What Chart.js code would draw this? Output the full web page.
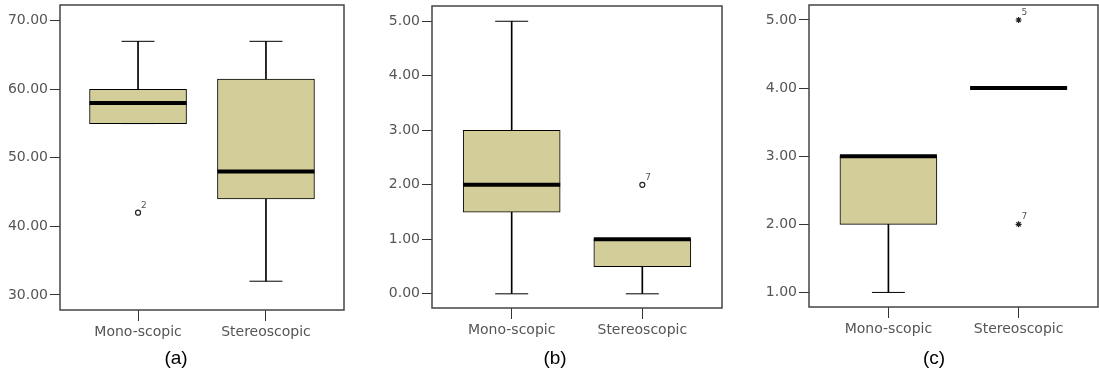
<!DOCTYPE html>
<html>
<head>
<meta charset="utf-8">
<script src="https://cdn.jsdelivr.net/npm/chart.js@4/dist/chart.umd.min.js"></script>
<style>
  body { margin: 0; background: #fff; width: 1099px; height: 376px; position: relative; overflow: hidden; }
  canvas { position: absolute; top: 0; }
  .cap { position: absolute; top: 346px; width: 40px; text-align: center; font: 19px "Liberation Sans", Arial, sans-serif; line-height: 24px; color: #000; }
</style>
</head>
<body>
<canvas id="boxA" width="350" height="376" style="left:0px"></canvas>
<canvas id="boxB" width="358" height="376" style="left:370px"></canvas>
<canvas id="boxC" width="359" height="376" style="left:740px"></canvas>
<div class="cap" style="left:156px">(a)</div>
<div class="cap" style="left:535px">(b)</div>
<div class="cap" style="left:914px">(c)</div>
<script>
var groups = ['Mono-scopic', 'Stereoscopic'];

// (a)
var aMin = [55, 32];
var aQ1  = [55, 44];
var aMed = [58, 48];
var aQ3  = [60, 61.5];
var aMax = [67, 67];
var aOutX = [0];
var aOutY = [42];
var aOutLbl = ['2'];
var aTicks = [30, 40, 50, 60, 70];

// (b)
var bMin = [0, 0];
var bQ1  = [1.5, 0.5];
var bMed = [2, 1];
var bQ3  = [3, 1];
var bMax = [5, 1];
var bOutX = [1];
var bOutY = [2];
var bOutLbl = ['7'];
var bTicks = [0, 1, 2, 3, 4, 5];

// (c)
var cMin = [1, 4];
var cQ1  = [2, 4];
var cMed = [3, 4];
var cQ3  = [3, 4];
var cMax = [3, 4];
var cOutX = [1, 1];
var cOutY = [5, 2];
var cOutLbl = ['5', '7'];
var cTicks = [1, 2, 3, 4, 5];

var boxColor = 'rgb(211,206,153)';

// frame round the plot area + little case numbers next to outliers
var framePlugin = {
  id: 'frame',
  afterDatasetsDraw: function(chart) {
    var ctx = chart.ctx, a = chart.chartArea;
    ctx.save();
    ctx.strokeStyle = '#444';
    ctx.lineWidth = 1.5;
    ctx.strokeRect(a.left, a.top, a.right - a.left, a.bottom - a.top);
    var labels = chart.options.plugins.frame.labels || [];
    var meta = chart.getDatasetMeta(chart.data.datasets.length - 1);
    ctx.fillStyle = '#555';
    ctx.font = '9px "DejaVu Sans"';
    ctx.textAlign = 'left';
    meta.data.forEach(function(pt, i) {
      ctx.fillText(labels[i], pt.x + 3, pt.y - 5);
    });
    ctx.restore();
  }
};

function xy(vals) {
  return vals.map(function(v, i) { return {x: i, y: v}; });
}
function range(lo, hi) {
  return lo.map(function(v, i) { return {x: i, y: [v, hi[i]]}; });
}
function noPad(ax) {
  ax.paddingTop = 0; ax.paddingBottom = 0; ax.paddingLeft = 0; ax.paddingRight = 0;
}

function makePanel(id, mins, q1s, meds, q3s, maxs, outX, outY, outLbl, outStyle, ticks, yMin, yMax, axisW, pad, bottom) {
  var outliers = outX.map(function(x, i) { return {x: x, y: outY[i]}; });
  return new Chart(document.getElementById(id), {
    type: 'bar',
    data: {
      datasets: [
        { data: range(q3s, maxs), backgroundColor: '#000', barThickness: 1, grouped: false, order: 5 },
        { data: range(mins, q1s), backgroundColor: '#000', barThickness: 1, grouped: false, order: 5 },
        { data: range(q1s, q3s), backgroundColor: boxColor, borderColor: '#000', borderWidth: 1,
          borderSkipped: false, barThickness: 97, grouped: false, order: 4 },
        { type: 'line', data: xy(maxs), showLine: false, pointStyle: 'line', pointRadius: 16.5,
          pointBorderWidth: 1, pointBorderColor: '#000', order: 3 },
        { type: 'line', data: xy(mins), showLine: false, pointStyle: 'line', pointRadius: 16.5,
          pointBorderWidth: 1, pointBorderColor: '#000', order: 3 },
        { type: 'line', data: xy(meds), showLine: false, pointStyle: 'line', pointRadius: 48.5,
          pointBorderWidth: 4, pointBorderColor: '#000', order: 2 },
        { type: 'line', data: outliers, showLine: false, pointStyle: outStyle,
          pointRadius: outStyle == 'star' ? 3 : 2.5, pointBorderWidth: 1.2,
          pointBorderColor: '#222', pointBackgroundColor: '#fff', order: 1 }
      ]
    },
    options: {
      responsive: false,
      animation: false,
      events: [],
      layout: { autoPadding: false, padding: { left: 0, right: pad, top: ticks.top, bottom: 0 } },
      plugins: { legend: { display: false }, tooltip: { enabled: false }, frame: { labels: outLbl } },
      scales: {
        x: {
          type: 'linear', min: -0.61, max: 1.61, offset: false, bounds: 'data',
          afterBuildTicks: function(ax) { ax.ticks = [{value: 0}, {value: 1}]; },
          afterFit: function(ax) { ax.height = bottom; noPad(ax); },
          grid: { offset: false, drawOnChartArea: false, drawTicks: true, tickLength: 11, color: '#333' },
          border: { display: false },
          ticks: { color: '#555', font: { family: 'DejaVu Sans', size: 14 }, padding: 3,
                   maxRotation: 0, autoSkip: false,
                   callback: function(v) { return groups[v]; } }
        },
        y: {
          min: yMin, max: yMax,
          afterBuildTicks: function(ax) { ax.ticks = ticks.vals.map(function(v) { return {value: v}; }); },
          afterFit: function(ax) { ax.width = axisW; noPad(ax); },
          grid: { drawOnChartArea: false, drawTicks: true, tickLength: 10, color: '#333' },
          border: { display: false },
          ticks: { color: '#555', font: { family: 'DejaVu Sans', size: 14 }, padding: 2,
                   callback: function(v) { return v.toFixed(2); } }
        }
      }
    },
    plugins: [framePlugin]
  });
}

makePanel('boxA', aMin, aQ1, aMed, aQ3, aMax, aOutX, aOutY, aOutLbl, 'circle',
  {vals: aTicks, top: 5}, 27.8, 72.3, 60, 6, 66);
makePanel('boxB', bMin, bQ1, bMed, bQ3, bMax, bOutX, bOutY, bOutLbl, 'circle',
  {vals: bTicks, top: 6}, -0.26, 5.28, 62, 6, 68);
makePanel('boxC', cMin, cQ1, cMed, cQ3, cMax, cOutX, cOutY, cOutLbl, 'star',
  {vals: cTicks, top: 5}, 0.786, 5.22, 69, 1, 69);
</script>
</body>
</html>
